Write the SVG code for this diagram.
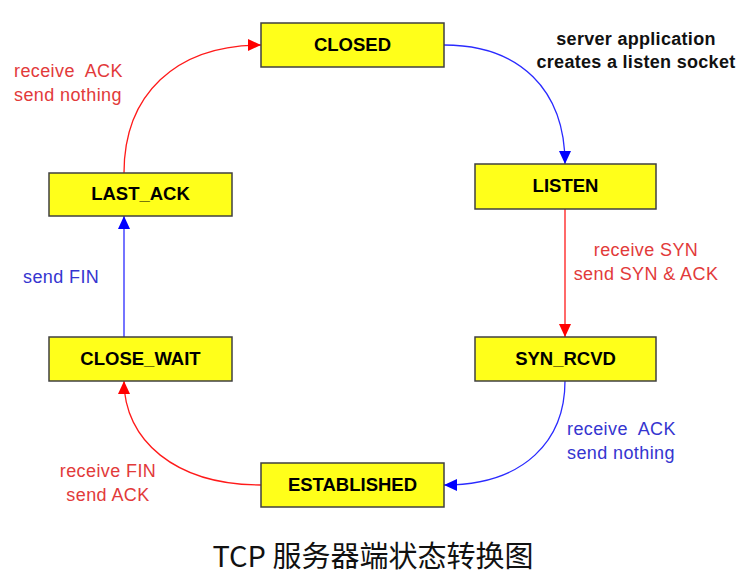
<svg xmlns="http://www.w3.org/2000/svg" width="747" height="583" viewBox="0 0 747 583">
<style>
.box{fill:#ffff1a;stroke:#404040;stroke-width:1.5}
.nl{font-family:"Liberation Sans",Arial,sans-serif;font-weight:bold;font-size:18.5px;fill:#000;text-anchor:middle}
.lb{font-family:"Liberation Sans",Arial,sans-serif;font-size:18px;letter-spacing:0.4px;white-space:pre}
.red{fill:#e23a3a}
.blue{fill:#3535d0}
.hd{font-family:"Liberation Sans",Arial,sans-serif;font-weight:bold;font-size:18px;fill:#111;text-anchor:middle;letter-spacing:0.3px}
.er{fill:none;stroke:#ff1a1a;stroke-width:1.3}
.eb{fill:none;stroke:#2a2aff;stroke-width:1.3}
.title{font-family:"Noto Sans CJK SC","Noto Sans",sans-serif;font-size:29px;fill:#111;text-anchor:middle}
</style>
<defs>
<marker id="ar" markerUnits="userSpaceOnUse" markerWidth="14" markerHeight="12" refX="13" refY="6" orient="auto"><path d="M0,0 L13,6 L0,12 z" fill="#ff0000"/></marker>
<marker id="ab" markerUnits="userSpaceOnUse" markerWidth="14" markerHeight="12" refX="13" refY="6" orient="auto"><path d="M0,0 L13,6 L0,12 z" fill="#0000ff"/></marker>
</defs>
<g id="connectors">
<path class="er" d="M124,173 C124,95 175,45 261,45" marker-end="url(#ar)"/>
<path class="eb" d="M444,45 C520,45 565,90 565,164" marker-end="url(#ab)"/>
<path class="er" d="M565,209 L565,337" marker-end="url(#ar)"/>
<path class="eb" d="M565,381 C565,440 525,485 444,485" marker-end="url(#ab)"/>
<path class="er" d="M261,485 C175,485 124,440 124,381" marker-end="url(#ar)"/>
<path class="eb" d="M124,337 L124,216" marker-end="url(#ab)"/>
</g>
<g id="labels">
<text class="lb red" x="14" y="77" xml:space="preserve">receive  ACK</text>
<text class="lb red" x="14" y="101">send nothing</text>
<text class="lb blue" x="23" y="283">send FIN</text>
<text class="lb red" x="108" y="477" text-anchor="middle">receive FIN</text>
<text class="lb red" x="108" y="501" text-anchor="middle">send ACK</text>
<text class="lb red" x="646" y="256" text-anchor="middle">receive SYN</text>
<text class="lb red" x="646" y="280" text-anchor="middle">send SYN &amp; ACK</text>
<text class="lb blue" x="567" y="435" xml:space="preserve">receive  ACK</text>
<text class="lb blue" x="567" y="459">send nothing</text>
<text class="hd" x="636" y="45">server application</text>
<text class="hd" x="636" y="68">creates a listen socket</text>
</g>
<g id="closed"><rect class="box" x="261" y="23" width="183" height="44"/><text class="nl" x="352.5" y="51">CLOSED</text></g>
<g id="listen"><rect class="box" x="475" y="164" width="181" height="45"/><text class="nl" x="565.5" y="192">LISTEN</text></g>
<g id="syn_rcvd"><rect class="box" x="475" y="337" width="181" height="44"/><text class="nl" x="565.5" y="365">SYN_RCVD</text></g>
<g id="established"><rect class="box" x="261" y="463" width="183" height="44"/><text class="nl" x="352.5" y="491">ESTABLISHED</text></g>
<g id="close_wait"><rect class="box" x="49" y="337" width="183" height="44"/><text class="nl" x="140.5" y="365">CLOSE_WAIT</text></g>
<g id="last_ack"><rect class="box" x="49" y="173" width="183" height="43"/><text class="nl" x="140.5" y="200">LAST_ACK</text></g>
<text class="title" x="373" y="567">TCP 服务器端状态转换图</text>
</svg>
